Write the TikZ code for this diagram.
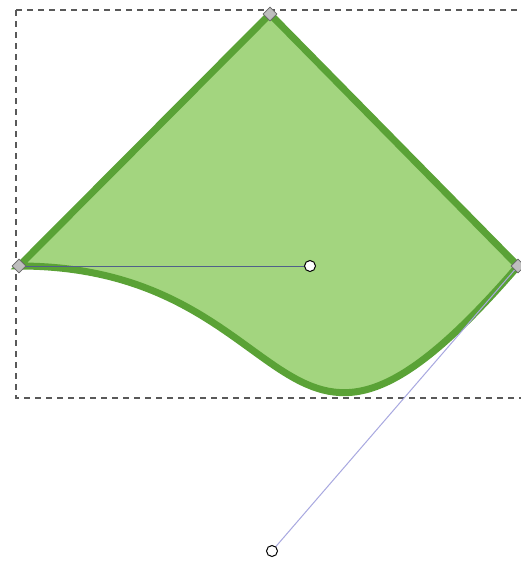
\documentclass[tikz,border=0pt]{standalone}
\usetikzlibrary{shapes.geometric}
\definecolor{leaffill}{HTML}{A3D57F}
\definecolor{leafline}{HTML}{5AA236}
\definecolor{handleA}{HTML}{50608A}
\definecolor{handleB}{HTML}{A8A8E0}
\definecolor{knot}{HTML}{BEBEBE}
\tikzset{
  vertex/.style={diamond, draw=black!60, fill=knot, line width=0.6pt, inner sep=0pt, minimum size=14pt},
  ctrl/.style={circle, draw=black, fill=white, line width=1pt, inner sep=0pt, minimum size=11pt},
  bbox/.style={draw=black!65, dash pattern=on 6pt off 5pt, line width=1.2pt},
}
\begin{document}
\begin{tikzpicture}[x=1pt,y=-1pt]
\useasboundingbox (0,0) rectangle (520,562);
\fill[white] (0,0) rectangle (520,562);
\draw[bbox] (16,10) -- (16,398) -- (525,398);
\draw[bbox] (16,10) -- (525,10);
\coordinate (T) at (270,14);
\coordinate (L) at (19,266);
\coordinate (R) at (518,266);
\coordinate (CA) at (310,266);
\coordinate (CB) at (272,551);
\draw[fill=leaffill, draw=leafline, line width=7pt, line join=miter]
  (L) -- (T) -- (R) .. controls (CB) and (CA) .. (L) -- cycle;
\draw[handleA, line width=1pt] (L) -- (CA);
\draw[handleB, line width=1pt] (R) -- (CB);
\node[vertex] (nT) at (T) {};
\node[vertex] (nL) at (L) {};
\node[vertex] (nR) at (R) {};
\node[ctrl] (nCA) at (CA) {};
\node[ctrl] (nCB) at (CB) {};
\end{tikzpicture}
\end{document}
